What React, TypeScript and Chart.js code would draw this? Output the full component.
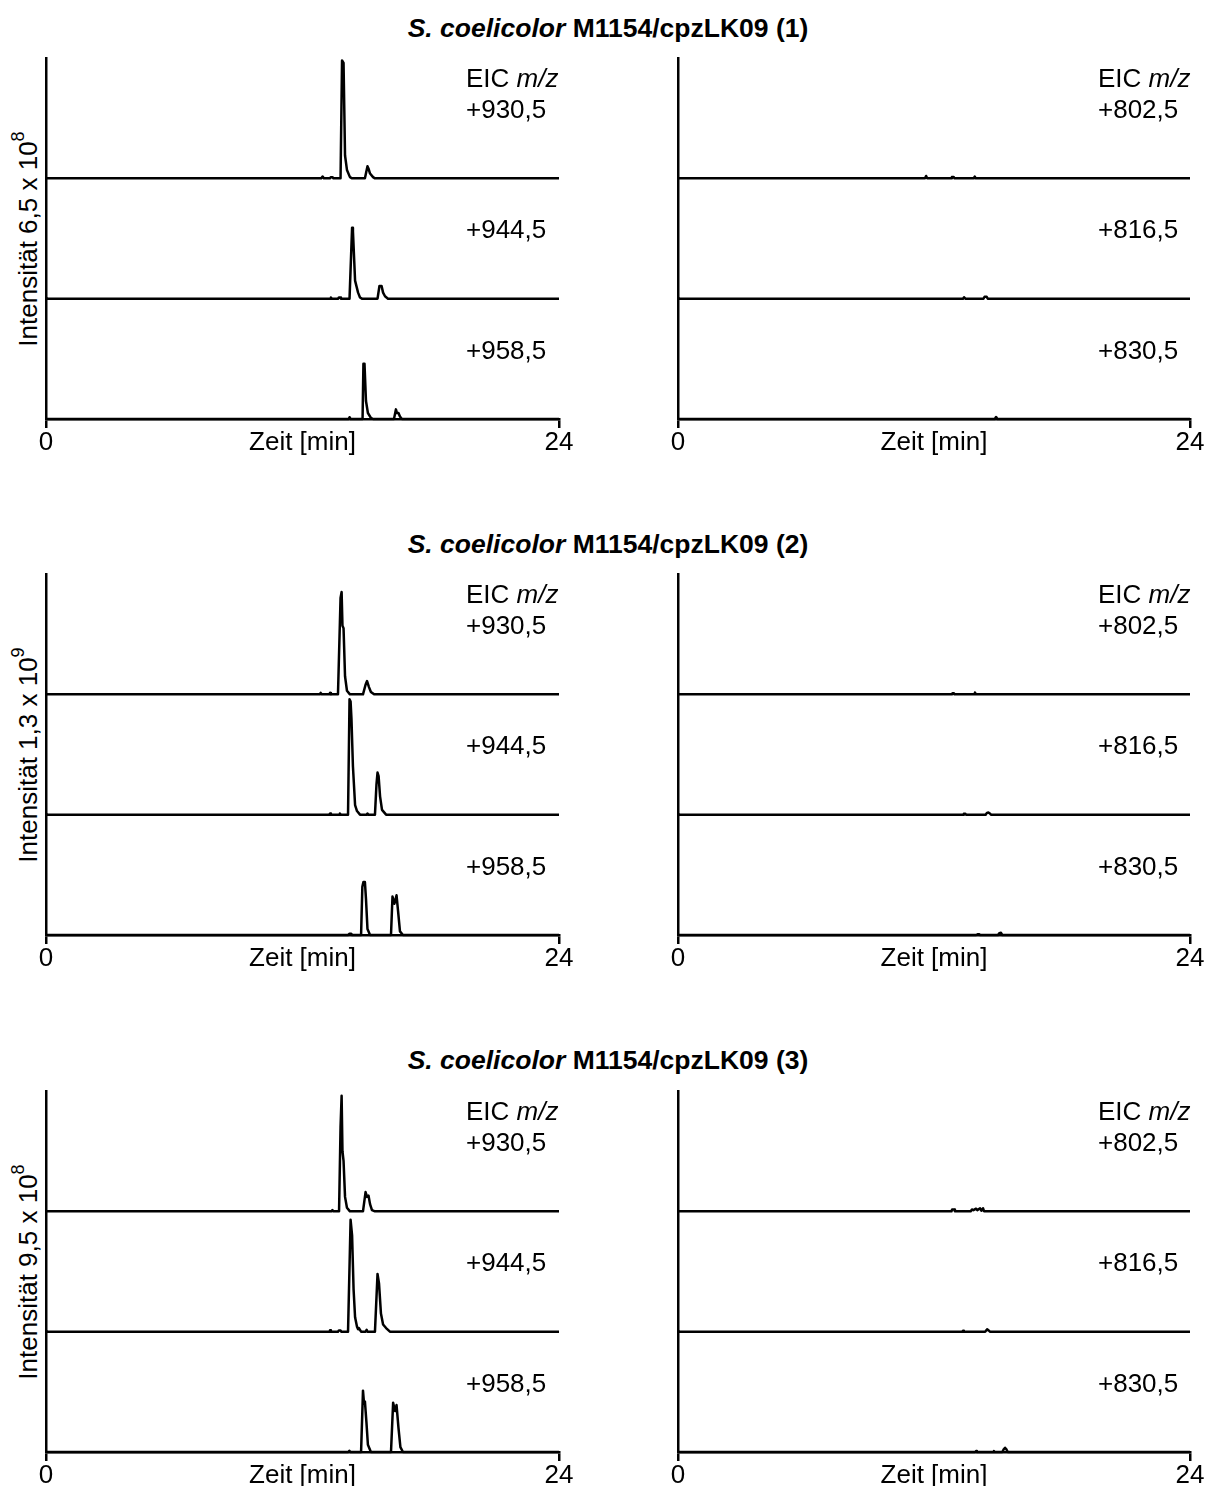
import React, { useEffect, useRef } from "react";
import { Chart, registerables } from "chart.js";

Chart.register(...registerables);

const FONT = '"Liberation Sans", Arial, Helvetica, sans-serif';

// x axis (time in minutes)
const timeTicks = [0, 12, 24];
const timeTickLabels = ["0", "Zeit [min]", "24"];

// sample / panel texts
const speciesName = "S. coelicolor";
const sampleNames = ["M1154/cpzLK09 (1)", "M1154/cpzLK09 (2)", "M1154/cpzLK09 (3)"];
const intensityMantissa = ["6,5", "1,3", "9,5"];
const intensityExponent = ["8", "9", "8"];
const leftMasses = ["+930,5", "+944,5", "+958,5"];
const rightMasses = ["+802,5", "+816,5", "+830,5"];

// traces: [time (min), intensity (% of band full scale)]
type Pt = [number, number];

// ---- sample 1 ----
const s1_930: Pt[] = [[0,0],[12.88,0],[12.94,1.5],[13.0,0],[13.28,0],[13.33,1],[13.4,1],[13.45,0],[13.78,0],[13.85,98],[13.92,96],[13.99,19],[14.08,7],[14.22,1],[14.32,0],[14.92,0],[15.04,10],[15.09,8],[15.16,4],[15.3,1],[15.39,0],[24,0]];
const s1_944: Pt[] = [[0,0],[13.3,0],[13.33,1],[13.37,0],[13.66,0],[13.7,1],[13.76,1],[13.8,0],[14.2,0],[14.32,59],[14.36,56],[14.46,15],[14.53,10],[14.6,5],[14.69,1],[14.78,0],[15.51,0],[15.6,10.5],[15.7,10.5],[15.77,5],[15.86,2],[16.0,0],[24,0]];
const s1_958: Pt[] = [[0,0],[14.16,0],[14.2,1.5],[14.25,0],[14.81,0],[14.85,46],[14.9,46],[14.97,15],[15.06,5],[15.2,1],[15.3,0],[16.28,0],[16.37,8],[16.42,5],[16.49,5],[16.56,2],[16.65,0],[24,0]];
const s1_802: Pt[] = [[0,0],[11.58,0],[11.63,2],[11.68,0],[12.8,0],[12.84,1.2],[12.92,1.2],[12.96,0],[13.86,0],[13.91,1.5],[13.96,0],[24,0]];
const s1_816: Pt[] = [[0,0],[13.36,0],[13.41,1.2],[13.47,0],[14.32,0],[14.37,1.5],[14.47,1.5],[14.52,0],[24,0]];
const s1_830: Pt[] = [[0,0],[14.85,0],[14.91,1.7],[14.97,0],[24,0]];

// ---- sample 2 ----
const s2_930: Pt[] = [[0,0],[12.81,0],[12.85,1.2],[12.9,0],[13.25,0],[13.29,1.2],[13.33,0],[13.66,0],[13.78,80],[13.83,85],[13.87,57],[13.92,55],[13.99,15],[14.08,3],[14.22,0],[14.83,0],[14.95,8],[15.02,11],[15.11,6],[15.2,2],[15.35,0],[24,0]];
const s2_944: Pt[] = [[0,0],[13.25,0],[13.29,1],[13.33,0],[13.71,0],[13.75,1],[13.79,0],[14.13,0],[14.2,96],[14.25,94],[14.29,80],[14.36,40],[14.46,8],[14.55,3],[14.69,0],[15.0,0],[15.04,1],[15.08,0],[15.39,0],[15.46,25],[15.51,35],[15.56,32],[15.63,15],[15.72,4],[15.91,0],[24,0]];
const s2_958: Pt[] = [[0,0],[14.13,0],[14.2,1],[14.28,1],[14.32,0],[14.74,0],[14.8,40],[14.85,44],[14.92,44],[14.97,30],[15.04,5],[15.16,0],[16.14,0],[16.21,32],[16.3,26],[16.4,33],[16.47,20],[16.56,3],[16.7,0],[24,0]];
const s2_802: Pt[] = [[0,0],[12.84,0],[12.87,1],[12.93,1],[12.96,0],[13.88,0],[13.92,1.5],[13.97,0],[24,0]];
const s2_816: Pt[] = [[0,0],[13.36,0],[13.4,0.8],[13.46,0.8],[13.5,0],[14.42,0],[14.48,1.5],[14.55,1.8],[14.62,1],[14.67,0],[24,0]];
const s2_830: Pt[] = [[0,0],[13.98,0],[14.04,0.6],[14.12,0.6],[14.16,0],[15.0,0],[15.06,1.5],[15.14,1.8],[15.2,0],[24,0]];

// ---- sample 3 ----
const s3_930: Pt[] = [[0,0],[13.35,0],[13.4,1],[13.45,0],[13.71,0],[13.78,70],[13.83,96],[13.87,50],[13.92,42],[13.99,12],[14.08,3],[14.22,0],[14.83,0],[14.95,16],[15.02,12],[15.09,13],[15.16,6],[15.25,1],[15.39,0],[24,0]];
const s3_944: Pt[] = [[0,0],[13.27,0],[13.29,1.2],[13.33,0],[13.66,0],[13.7,1],[13.78,1],[13.82,0],[14.13,0],[14.25,93],[14.32,80],[14.39,35],[14.46,12],[14.55,4],[14.6,2],[14.64,3],[14.74,0],[14.95,0],[15.0,1.5],[15.04,0],[15.39,0],[15.51,48],[15.58,40],[15.67,15],[15.77,6],[15.91,3],[16.09,0],[24,0]];
const s3_958: Pt[] = [[0,0],[14.14,0],[14.19,1],[14.25,0],[14.74,0],[14.83,51],[14.88,40],[14.92,42],[14.99,25],[15.06,6],[15.2,0],[16.14,0],[16.24,41],[16.33,34],[16.4,39],[16.49,20],[16.58,4],[16.7,0],[24,0]];
const s3_802: Pt[] = [[0,0],[12.82,0],[12.85,1.6],[12.95,1.6],[12.98,0],[13.72,0],[13.78,1.5],[13.85,1],[13.97,2.2],[14.03,1],[14.16,2.5],[14.22,0.5],[14.3,2.5],[14.35,0],[24,0]];
const s3_816: Pt[] = [[0,0],[13.33,0],[13.36,0.8],[13.4,0],[14.4,0],[14.49,2],[14.56,1],[14.62,0],[24,0]];
const s3_830: Pt[] = [[0,0],[13.93,0],[13.97,0.8],[14.01,0],[14.78,0],[14.81,0.8],[14.85,0],[15.2,0],[15.28,2.5],[15.33,3.5],[15.38,2.5],[15.46,0],[24,0]];

const leftTraces: Pt[][][] = [
  [s1_930, s1_944, s1_958],
  [s2_930, s2_944, s2_958],
  [s3_930, s3_944, s3_958],
];
const rightTraces: Pt[][][] = [
  [s1_802, s1_816, s1_830],
  [s2_802, s2_816, s2_830],
  [s3_802, s3_816, s3_830],
];

// layout
const GROUP_TOP = [58, 574, 1091];
const PLOT_H = 361;
const PANEL_LEFT = [46, 678];
const PLOT_W = [513, 512];
const PAD_L = 10, PAD_R = 20, PAD_T = 10, XAXIS_H = 50;
const TITLE_Y = [28, 544, 1060];

const BAND_IDS = ["b0", "b1", "b2"];

function Panel(props: { traces: Pt[][]; masses: string[]; x: number; top: number; w: number }) {
  const { traces, masses, x, top, w } = props;
  const ref = useRef<HTMLCanvasElement | null>(null);
  const cw = w + PAD_L + PAD_R;
  const ch = PLOT_H + PAD_T + XAXIS_H;

  useEffect(() => {
    const canvas = ref.current;
    if (!canvas) return;
    const scales: any = {
      x: {
        type: "linear",
        position: "bottom",
        min: 0,
        max: 24,
        afterBuildTicks: (s: any) => {
          s.ticks = timeTicks.map((v) => ({ value: v }));
        },
        afterFit: (s: any) => {
          s.height = XAXIS_H;
        },
        ticks: {
          autoSkip: false,
          maxRotation: 0,
          minRotation: 0,
          padding: 2,
          color: "#000",
          font: { family: FONT, size: 26, lineHeight: 1 },
          callback: (v: any) => {
            const i = timeTicks.indexOf(Number(v));
            return i >= 0 ? timeTickLabels[i] : "";
          },
        },
        grid: {
          display: true,
          drawOnChartArea: false,
          drawTicks: true,
          tickLength: 9,
          tickWidth: 2.5,
          lineWidth: 2.5,
          color: "#000",
          tickColor: (ctx: any) =>
            ctx.tick && ctx.tick.value !== timeTicks[0] && ctx.tick.value !== timeTicks[timeTicks.length - 1]
              ? "rgba(0,0,0,0)"
              : "#000",
        },
        border: { display: true, color: "#000", width: 2.5 },
      },
    };
    BAND_IDS.forEach((id, i) => {
      scales[id] = {
        type: "linear",
        position: "left",
        stack: "bands",
        stackWeight: 1,
        weight: BAND_IDS.length - i,
        min: 0,
        max: 100,
        ticks: { display: false },
        grid: { display: false, drawTicks: false },
        border: { display: true, color: "#000", width: 2.5 },
        afterFit: (s: any) => {
          s.width = 0;
        },
      };
    });

    const labelPlugin = {
      id: "eicLabels",
      afterDraw(chart: any) {
        const ctx = chart.ctx as CanvasRenderingContext2D;
        const lx = chart.chartArea.left + 420;
        ctx.save();
        ctx.fillStyle = "#000";
        ctx.textAlign = "left";
        ctx.textBaseline = "alphabetic";
        const b0 = chart.scales[BAND_IDS[0]];
        // "EIC m/z"
        ctx.font = `26px ${FONT}`;
        const eic = "EIC ";
        ctx.fillText(eic, lx, b0.top + 29);
        const ew = ctx.measureText(eic).width;
        ctx.font = `italic 26px ${FONT}`;
        ctx.fillText("m/z", lx + ew, b0.top + 29);
        ctx.font = `26px ${FONT}`;
        BAND_IDS.forEach((id, i) => {
          const sc = chart.scales[id];
          ctx.fillText(masses[i], lx, sc.top + 60);
        });
        ctx.restore();
      },
    };

    const chart = new Chart(canvas, {
      type: "line",
      data: {
        datasets: traces.map((t, i) => ({
          label: masses[i],
          data: t.map(([tx, ty]) => ({ x: tx, y: ty })),
          yAxisID: BAND_IDS[i],
          borderColor: "#000",
          borderWidth: 2.5,
          borderJoinStyle: "round",
          pointRadius: 0,
          tension: 0,
          fill: false,
          clip: false,
        })),
      },
      options: {
        responsive: false,
        animation: false,
        devicePixelRatio: 1,
        events: [],
        layout: { padding: { left: PAD_L, right: PAD_R, top: PAD_T, bottom: 0 } },
        plugins: { legend: { display: false }, tooltip: { enabled: false } },
        scales,
      } as any,
      plugins: [labelPlugin],
    });
    return () => chart.destroy();
  }, []);

  return (
    <canvas
      ref={ref}
      width={cw}
      height={ch}
      style={{ position: "absolute", left: x - PAD_L, top: top - PAD_T, width: cw, height: ch }}
    />
  );
}

export default function App() {
  return (
    <div
      style={{
        position: "absolute",
        left: 0,
        top: 0,
        width: 1205,
        height: 1486,
        background: "#fff",
        fontFamily: FONT,
        color: "#000",
        overflow: "hidden",
      }}
    >
      {GROUP_TOP.map((gt, g) => (
        <React.Fragment key={g}>
          <div
            style={{
              position: "absolute",
              left: 0,
              width: 1216,
              top: TITLE_Y[g] - 15,
              height: 30,
              lineHeight: "30px",
              textAlign: "center",
              fontWeight: "bold",
              fontSize: 26.5,
              whiteSpace: "nowrap",
            }}
          >
            <i>{speciesName}</i> {sampleNames[g]}
          </div>
          <div
            style={{
              position: "absolute",
              left: 28,
              top: gt + PLOT_H / 2,
              transform: "translate(-50%, -50%) rotate(-90deg)",
              whiteSpace: "nowrap",
              fontSize: 26,
              lineHeight: "30px",
              height: 30,
            }}
          >
            {"Intensität " + intensityMantissa[g] + " x 10"}
            <span style={{ fontSize: 18, position: "relative", top: -13, lineHeight: 0 }}>
              {intensityExponent[g]}
            </span>
          </div>
          <Panel traces={leftTraces[g]} masses={leftMasses} x={PANEL_LEFT[0]} top={gt} w={PLOT_W[0]} />
          <Panel traces={rightTraces[g]} masses={rightMasses} x={PANEL_LEFT[1]} top={gt} w={PLOT_W[1]} />
        </React.Fragment>
      ))}
    </div>
  );
}
